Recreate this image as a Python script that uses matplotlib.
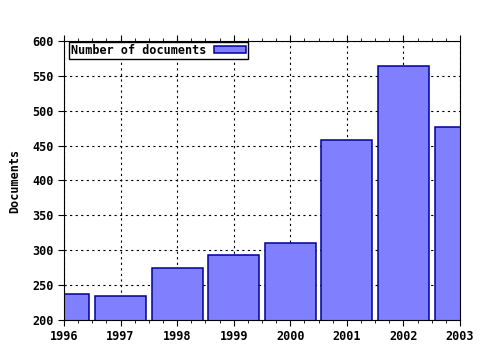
import matplotlib
matplotlib.use("Agg")
import matplotlib.pyplot as plt
from matplotlib.ticker import MultipleLocator

years = [1996, 1997, 1998, 1999, 2000, 2001, 2002, 2003]
docs = [237, 234, 274, 293, 310, 458, 564, 476]

plt.rcParams['font.family'] = 'DejaVu Sans Mono'
plt.rcParams['font.weight'] = 'bold'

fig = plt.figure(figsize=(4.8, 3.5), dpi=100)
ax = fig.add_axes([0.1333, 0.0857, 0.8250, 0.7973])

ax.bar(years, docs, width=0.9, color='#8080ff', edgecolor='#000099',
       linewidth=1.1, label='Number of documents', zorder=2)

ax.set_xlim(1996, 2003)
ax.set_ylim(200, 600)
ax.set_xticks(years)
ax.xaxis.set_minor_locator(MultipleLocator(0.25))
ax.set_yticks(range(200, 601, 50))
ax.grid(True, which='major', color='black', linestyle=(0, (2, 3)), linewidth=0.8, zorder=1)
ax.tick_params(axis='x', which='both', top=True, direction='out', labelsize=8.5)
ax.tick_params(axis='x', which='major', length=4)
ax.tick_params(axis='x', which='minor', length=2)
ax.tick_params(axis='y', which='major', length=4, direction='out', labelsize=8.5)
for lbl in ax.get_xticklabels() + ax.get_yticklabels():
    lbl.set_fontweight('bold')
ax.set_ylabel('Documents', fontsize=8.5, fontweight='bold', labelpad=8)

leg = ax.legend(loc='upper left', fontsize=8.5, markerfirst=False, fancybox=False,
                framealpha=1, edgecolor='black', borderpad=0.15,
                bbox_to_anchor=(0.012, 0.995), borderaxespad=0,
                handlelength=2.7, handleheight=0.55, handletextpad=0.7)
leg.get_frame().set_linewidth(1.0)
for t in leg.get_texts():
    t.set_fontweight('bold')

fig.savefig('out.png', dpi=100)
